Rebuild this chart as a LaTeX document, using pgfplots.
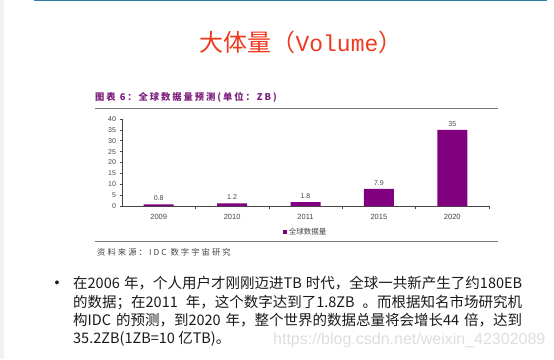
\documentclass[border=0pt]{standalone}
\usepackage{pgfplots}
\pgfplotsset{compat=1.18}
\usepackage{fontspec}
\setmainfont{Liberation Sans}
\newfontfamily\cjk{Noto Sans CJK SC}
\newfontfamily\cjkwide[LetterSpace=25]{Noto Sans CJK SC}
\newfontfamily\cjkwideb[LetterSpace=21]{Noto Sans CJK SC}
\newfontfamily\mono{Liberation Mono}
\definecolor{barpurple}{RGB}{128,0,128}
\definecolor{titlepurple}{RGB}{125,30,125}
\definecolor{titlered}{RGB}{238,58,30}
\definecolor{topblue}{RGB}{46,125,165}
\definecolor{bodytext}{RGB}{25,25,25}
\definecolor{chartgray}{RGB}{70,70,70}
\definecolor{rulegray}{RGB}{120,120,120}
\begin{document}
\begin{tikzpicture}[x=1pt,y=1pt]
\path[use as bounding box] (0,0) rectangle (554,-359);
\fill[white] (0,0) rectangle (554,-359);
\fill[black!5] (0,0) rectangle (4,-359);
\draw[topblue, line width=1.2pt] (34,-0.6) -- (547,-0.6);
% slide title
\node[anchor=base, text=titlered, inner sep=0] at (301,-51)
  {\cjk\fontsize{24}{28}\selectfont 大体量（{\mono\fontsize{23}{28}\selectfont Volume}）};
% chart title and rules
\node[anchor=base west, text=titlepurple, inner sep=0] at (95,-100)
  {\cjkwideb\bfseries\fontsize{9.3}{10}\selectfont 图表 6：全球数据量预测(单位：ZB)};
\draw[rulegray, line width=0.8pt] (95,-108) -- (498,-108);
\draw[rulegray, line width=0.8pt] (95,-241) -- (498,-241);
\node[anchor=base west, text=chartgray, inner sep=0] at (97,-255)
  {\cjkwide\fontsize{8.3}{9}\selectfont 资料来源：IDC 数字宇宙研究};
\begin{axis}[
  at={(122pt,-206pt)}, anchor=south west,
  scale only axis, width=367pt, height=87pt,
  xmin=-0.5, xmax=4.5, ymin=0, ymax=40,
  axis x line=bottom, axis y line=left,
  axis line style={-, draw=chartgray, line width=0.6pt},
  ytick={0,5,...,40},
  xtick={0,...,4},
  xticklabels={2009,2010,2011,2015,2020},
  minor xtick={0.5,1.5,2.5,3.5,4.5},
  major x tick style={draw=none},
  minor x tick style={draw=chartgray, line width=0.6pt},
  ytick style={draw=chartgray, line width=0.6pt},
  tick align=outside,
  major tick length=2.5pt, minor tick length=3pt,
  yticklabel style={font=\fontsize{7}{8}\selectfont, text=chartgray},
  xticklabel style={font=\fontsize{7.5}{8}\selectfont, text=chartgray, yshift=-2pt},
  /pgf/number format/assume math mode=true,
  ybar, bar width=30pt,
  nodes near coords,
  nodes near coords style={font=\fontsize{7}{8}\selectfont, text=chartgray},
  legend style={at={(0.5,-0.30)}, anchor=center, draw=none, fill=none,
    font=\cjk\fontsize{7.5}{8}\selectfont, text=chartgray, inner sep=0pt},
  legend image code/.code={\fill[barpurple] (0pt,-2pt) rectangle (4pt,2pt);},
]
\addplot[fill=barpurple, draw=none] coordinates {(0,0.8) (1,1.2) (2,1.8) (3,7.9) (4,35)};
\addlegendentry{全球数据量}
\end{axis}
% watermark
\node[anchor=base west, text=black!13, inner sep=0] at (273,-344)
  {\fontsize{16}{19}\selectfont https://blog.csdn.net/weixin\_42302089};
% body text
\node[text=bodytext, inner sep=0] at (57,-284) {\fontsize{14}{16}\selectfont •};
\begin{scope}[every node/.style={anchor=base west, text=bodytext, inner sep=0, font=\cjk\fontsize{14.5}{18}\selectfont}]
\node at (73,-288) {\makebox[449pt][s]{在2006 年，个人用户才刚刚迈进TB 时代，全球一共新产生了约180EB}};
\node at (73,-307) {\makebox[449pt][s]{的数据；在2011 年，这个数字达到了1.8ZB 。而根据知名市场研究机}};
\node at (73,-325) {\makebox[449pt][s]{构IDC 的预测，到2020 年，整个世界的数据总量将会增长44 倍，达到}};
\node at (73,-343) {35.2ZB(1ZB=10 亿TB)。};
\end{scope}
\end{tikzpicture}
\end{document}
